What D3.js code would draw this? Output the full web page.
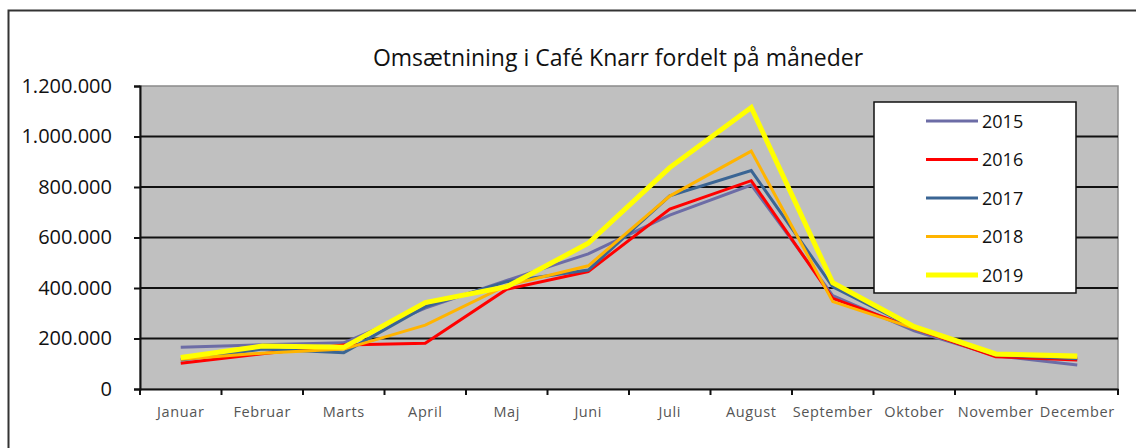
<!DOCTYPE html>
<html>
<head>
<meta charset="utf-8">
<script src="https://cdn.jsdelivr.net/npm/d3@7"></script>
<style>
  body { margin: 0; background: #fff; }
  text { font-family: "Open Sans", "Noto Sans", sans-serif; }
</style>
</head>
<body>
<div id="chart"></div>
<script>
// Data
const months = ["Januar", "Februar", "Marts", "April", "Maj", "Juni", "Juli", "August", "September", "Oktober", "November", "December"];
const years = ["2015", "2016", "2017", "2018", "2019"];
const yTicks = [0, 200000, 400000, 600000, 800000, 1000000, 1200000];

const v2015 = [165000, 175000, 183000, 320000, 430000, 535000, 689000, 808000, 370000, 230000, 132000, 95000];
const v2016 = [102000, 140000, 174000, 181000, 395000, 465000, 713000, 825000, 359000, 240000, 128000, 115000];
const v2017 = [115000, 158000, 144000, 326000, 425000, 471000, 765000, 865000, 405000, 242000, 135000, 120000];
const v2018 = [118000, 142000, 158000, 253000, 410000, 488000, 764000, 942000, 346000, 240000, 136000, 125000];
const v2019 = [125000, 170000, 165000, 342000, 405000, 577000, 877000, 1115000, 421000, 247000, 139000, 131000];

const seriesValues = [v2015, v2016, v2017, v2018, v2019];
const colors = ["#6c6ca6", "#ff0000", "#3a6594", "#ffb400", "#ffff00"];
const widths = [3, 3, 3, 3, 5];

const W = 1136, H = 448;
const margin = { top: 86, right: 18, bottom: 59, left: 140 },
    width = W - margin.left - margin.right,
    height = H - margin.top - margin.bottom;

const root = d3.select("#chart")
    .append("svg")
    .attr("width", W)
    .attr("height", H);

// Outer chart frame
root.append("path")
    .attr("d", `M8.5,${H} V10.5 H${W}`)
    .attr("fill", "none")
    .attr("stroke", "#333")
    .attr("stroke-width", 2);

// Title
root.append("text")
    .attr("x", 618)
    .attr("y", 66)
    .attr("text-anchor", "middle")
    .attr("font-size", 23)
    .attr("fill", "#111")
    .text("Omsætnining i Café Knarr fordelt på måneder");

const svg = root.append("g")
    .attr("transform", `translate(${margin.left},${margin.top})`);

// Scales
const x = d3.scaleBand()
    .domain(months)
    .range([0, width]);

const y = d3.scaleLinear()
    .domain([0, 1200000])
    .range([height, 0]);

// Plot background
svg.append("rect")
    .attr("width", width)
    .attr("height", height)
    .attr("fill", "#c0c0c0")
    .attr("stroke", "#8a8a8a")
    .attr("stroke-width", 1.5);

// Grid lines
svg.append("g")
    .selectAll("line")
    .data(yTicks.filter(d => d > 0 && d < 1200000))
    .join("line")
    .attr("x1", 0)
    .attr("x2", width)
    .attr("y1", d => y(d))
    .attr("y2", d => y(d))
    .attr("stroke", "#111")
    .attr("stroke-width", 2);

// Y axis
const fmt = d3.formatLocale({ decimal: ",", thousands: ".", grouping: [3], currency: ["", " kr."] }).format(",d");
const yAxis = svg.append("g")
    .call(d3.axisLeft(y).tickValues(yTicks).tickFormat(fmt).tickSize(6).tickPadding(22));
yAxis.select(".domain").attr("stroke", "#111").attr("stroke-width", 2);
yAxis.selectAll(".tick line").attr("stroke", "#111").attr("stroke-width", 2);
yAxis.selectAll("text")
    .attr("font-size", 20)
    .attr("fill", "#111")
    .style("font-family", "\"Open Sans\", sans-serif");

// X axis
const xAxis = svg.append("g")
    .attr("transform", `translate(0,${height})`)
    .call(d3.axisBottom(x).tickSize(0).tickPadding(18));
xAxis.select(".domain").attr("stroke", "#111").attr("stroke-width", 2);
xAxis.selectAll("text")
    .attr("font-size", 14.5)
    .attr("letter-spacing", 0.6)
    .attr("fill", "#555")
    .style("font-family", "\"Open Sans\", sans-serif");

// tick marks between categories
svg.append("g")
    .selectAll("line")
    .data(months.map((m, i) => i).concat([months.length]))
    .join("line")
    .attr("x1", i => i * x.step())
    .attr("x2", i => i * x.step())
    .attr("y1", height)
    .attr("y2", height + 6)
    .attr("stroke", "#111")
    .attr("stroke-width", 2);

// Lines
const line = d3.line()
    .x((d, i) => x(months[i]) + x.bandwidth() / 2)
    .y(d => y(d));

seriesValues.forEach((vals, k) => {
    svg.append("path")
        .datum(vals)
        .attr("fill", "none")
        .attr("stroke", colors[k])
        .attr("stroke-width", widths[k])
        .attr("stroke-linejoin", "miter")
        .attr("d", line);
});

// Legend
const legend = root.append("g")
    .attr("transform", "translate(874,102)");

legend.append("rect")
    .attr("width", 202)
    .attr("height", 191)
    .attr("fill", "#fff")
    .attr("stroke", "#111")
    .attr("stroke-width", 1.5);

years.forEach((yr, k) => {
    const ly = 19 + k * 38.5;
    legend.append("line")
        .attr("x1", 52)
        .attr("x2", 104)
        .attr("y1", ly)
        .attr("y2", ly)
        .attr("stroke", colors[k])
        .attr("stroke-width", widths[k]);
    legend.append("text")
        .attr("x", 108)
        .attr("y", ly + 6.5)
        .attr("font-size", 18)
        .attr("fill", "#111")
        .text(yr);
});
</script>
</body>
</html>
